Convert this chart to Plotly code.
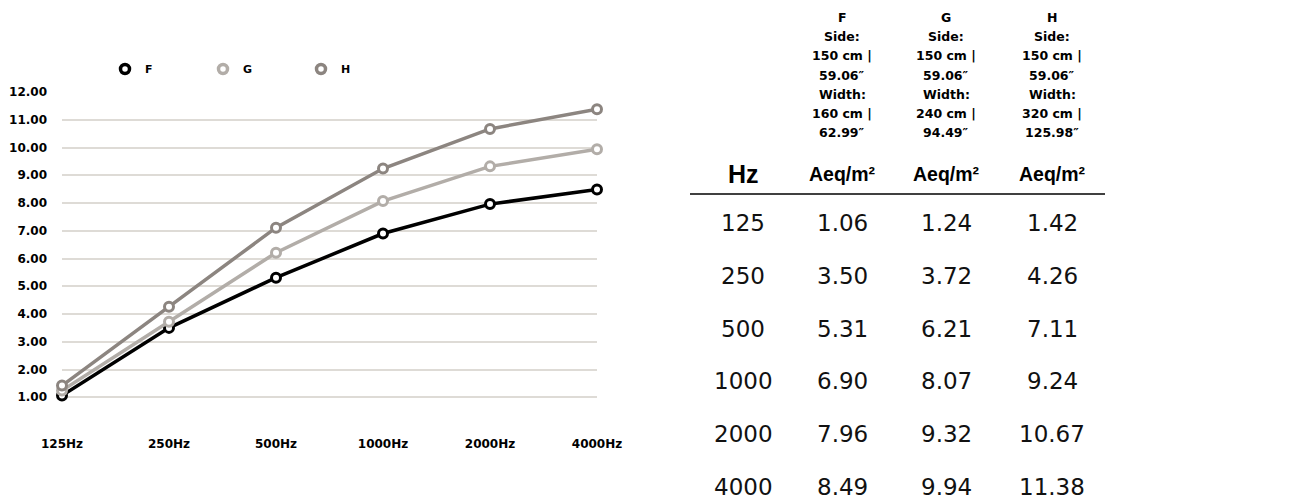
import plotly.graph_objects as go

# ---- data ----
freq_labels = ["125Hz", "250Hz", "500Hz", "1000Hz", "2000Hz", "4000Hz"]
hz_values = [125, 250, 500, 1000, 2000, 4000]
series_names = ["F", "G", "H"]
f_vals = [1.06, 3.50, 5.31, 6.90, 7.96, 8.49]
g_vals = [1.24, 3.72, 6.21, 8.07, 9.32, 9.94]
h_vals = [1.42, 4.26, 7.11, 9.24, 10.67, 11.38]
f_header = ["F", "Side:", "150 cm |", "59.06\u2033", "Width:", "160 cm |", "62.99\u2033"]
g_header = ["G", "Side:", "150 cm |", "59.06\u2033", "Width:", "240 cm |", "94.49\u2033"]
h_header = ["H", "Side:", "150 cm |", "59.06\u2033", "Width:", "320 cm |", "125.98\u2033"]
y_tick_vals = list(range(0, 13))
y_tick_text = ["" if v == 0 else f"{v:.2f}" for v in y_tick_vals]
unit_label = "Aeq/m\u00b2"
hz_label = "Hz"

colors = {"F": "#000000", "G": "#b2ada8", "H": "#8c8580"}
series_vals = {"F": f_vals, "G": g_vals, "H": h_vals}
headers = {"F": f_header, "G": g_header, "H": h_header}

# ---- layout geometry (window pixels; page body has an 8px margin) ----
OFF = 8
W, HGT = 1314 - 2 * OFF, 500 - OFF
L, R, T, B = 62 - OFF, 597 - OFF, 92 - OFF, 425 - OFF


def px_x(p):
    return (p - OFF - L) / (R - L)


def px_y(p):
    return (B - (p - OFF)) / (B - T)


bold_font = "DejaVu Sans"
bold_w = "bold"

fig = go.Figure()
for name in series_names:
    fig.add_trace(go.Scatter(
        x=freq_labels, y=series_vals[name], mode="lines+markers", name=name,
        line=dict(color=colors[name], width=3.5),
        marker=dict(symbol="circle", size=9, color="white",
                    line=dict(color=colors[name], width=3)),
        cliponaxis=False, showlegend=False,
    ))
# legend-only marker entries
for name in series_names:
    fig.add_trace(go.Scatter(
        x=[None], y=[None], mode="markers", name=name,
        marker=dict(symbol="circle", size=9, color="white",
                    line=dict(color=colors[name], width=3.5)),
        showlegend=True,
    ))

annotations = []
col_x = {"F": 842, "G": 946, "H": 1052}
hz_x = 743
# header text lines
line_y0, line_dy = 17.5, 19.2
for name in series_names:
    for i, txt in enumerate(headers[name]):
        annotations.append(dict(
            text=txt, x=px_x(col_x[name]), y=px_y(line_y0 + i * line_dy),
            xref="paper", yref="paper", xanchor="center", yanchor="middle",
            showarrow=False, font=dict(family=bold_font, size=12.5, color="#000", weight=bold_w),
        ))
    annotations.append(dict(
        text=unit_label, x=px_x(col_x[name]), y=px_y(174),
        xref="paper", yref="paper", xanchor="center", yanchor="middle",
        showarrow=False, font=dict(family="Liberation Sans", size=19.5, color="#000", weight="bold"),
    ))
annotations.append(dict(
    text=hz_label, x=px_x(hz_x), y=px_y(174),
    xref="paper", yref="paper", xanchor="center", yanchor="middle",
    showarrow=False, font=dict(family="Liberation Sans", size=25, color="#000", weight="bold"),
))
row_y0, row_dy = 223, 52.8
for r, hz in enumerate(hz_values):
    y = px_y(row_y0 + r * row_dy)
    annotations.append(dict(
        text=str(hz), x=px_x(hz_x), y=y, xref="paper", yref="paper",
        xanchor="center", yanchor="middle", showarrow=False,
        font=dict(family="DejaVu Sans", size=23, color="#111"),
    ))
    for name in series_names:
        annotations.append(dict(
            text=f"{series_vals[name][r]:.2f}", x=px_x(col_x[name]), y=y,
            xref="paper", yref="paper", xanchor="center", yanchor="middle",
            showarrow=False,
            font=dict(family="DejaVu Sans", size=23, color="#111"),
        ))

fig.update_layout(
    width=W, height=HGT,
    margin=dict(l=L, r=W - R, t=T, b=HGT - B, pad=0, autoexpand=False),
    plot_bgcolor="white", paper_bgcolor="white",
    showlegend=True,
    legend=dict(orientation="h", x=px_x(105), xanchor="left", y=px_y(69), yanchor="middle",
                entrywidth=53, entrywidthmode="pixels",
                font=dict(family=bold_font, size=11, color="#000", weight=bold_w),
                bgcolor="rgba(0,0,0,0)"),
    annotations=annotations,
    shapes=[dict(type="line", xref="paper", yref="paper",
                 x0=px_x(690), x1=px_x(1105), y0=px_y(194), y1=px_y(194),
                 line=dict(color="#000", width=1.5))],
)
fig.update_xaxes(
    type="category", range=[0, len(freq_labels) - 1], showgrid=False, zeroline=False,
    showline=False, ticks="", ticklabelstandoff=10, automargin=False,
    tickfont=dict(family=bold_font, size=12, color="#000", weight=bold_w),
)
fig.update_yaxes(
    range=[0, 12], tickvals=y_tick_vals, ticktext=y_tick_text,
    showgrid=True, gridcolor="#dedbd6", gridwidth=1.5, zeroline=False,
    showline=False, ticks="", ticklabelstandoff=14, automargin=False,
    tickfont=dict(family=bold_font, size=12, color="#000", weight=bold_w),
)

fig.write_html("out.html")
